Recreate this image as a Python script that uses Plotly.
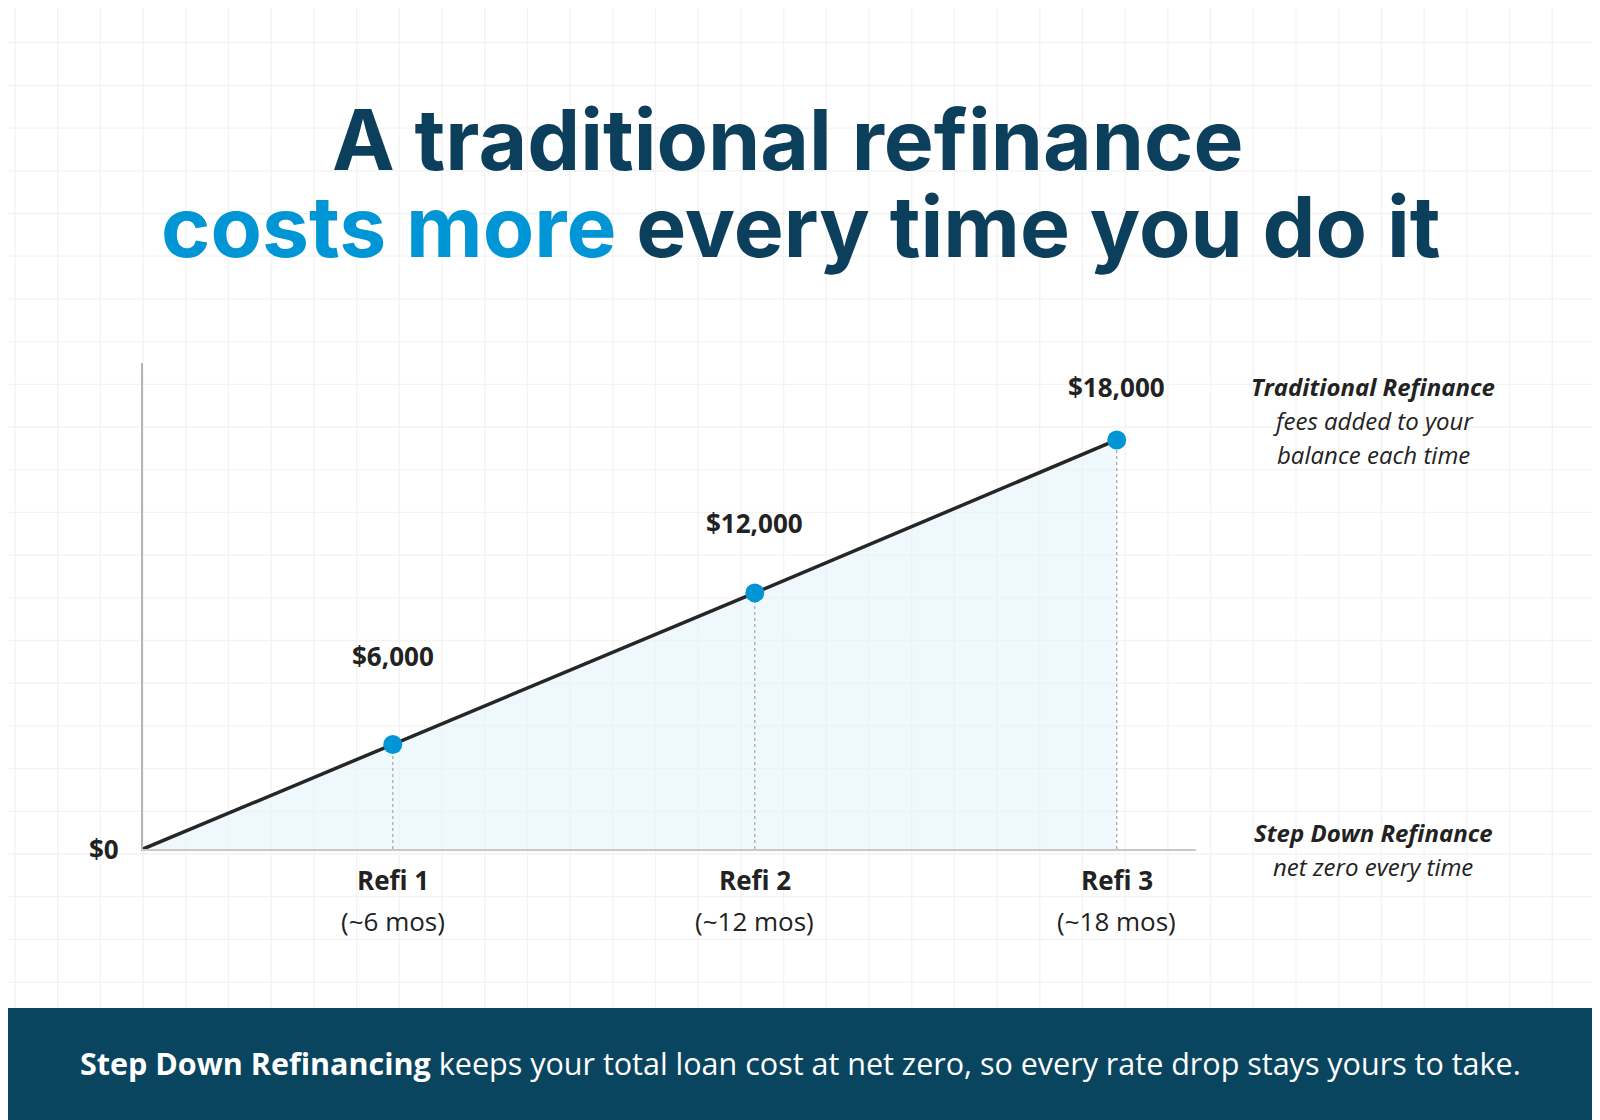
import plotly.graph_objects as go

# data
refi_labels = ["Refi 1", "Refi 2", "Refi 3"]
refi_terms = ["(~6 mos)", "(~12 mos)", "(~18 mos)"]
fee_labels = ["$6,000", "$12,000", "$18,000"]
line_x = [0, 0.69, 1.69, 2.69]
line_y = [0, 4100, 10050, 16050]
fee_label_y = [656, 523, 387]  # pixel rows of the value labels

W, H = 1600, 1120
OFF = 8  # page margin of the browser
L, T = 143 - OFF, 363 - OFF
PW, PH = 1053, 486
R, B = W - L - PW, H - T - PH

DARK = "#0c3f5c"
BLUE = "#0096d6"
TEXT = "#222222"
FONT = "Open Sans"


def px(x):
    return (x - OFF - L) / PW


def py(y):
    return (H - B - (y - OFF)) / PH


fig = go.Figure()

# filled area + line
fig.add_trace(go.Scatter(
    x=line_x, y=line_y, mode="lines",
    line=dict(color="#262626", width=3.5),
    fill="tozeroy", fillcolor="rgba(228,245,252,0.6)",
    hoverinfo="skip",
))

# dotted drop lines
for xv, yv in zip(line_x[1:], line_y[1:]):
    fig.add_trace(go.Scatter(
        x=[xv, xv], y=[0, yv], mode="lines",
        line=dict(color="#aaaaaa", width=1.3, dash="dot"),
        hoverinfo="skip",
    ))

fig.add_trace(go.Scatter(
    x=line_x[1:], y=line_y[1:], mode="markers",
    marker=dict(color=BLUE, size=19),
    hoverinfo="skip",
))

shapes = []
# background grid
step = 42.7
g = 15.0
while g < W + 20:
    shapes.append(dict(type="line", xref="paper", yref="paper", layer="below",
                       x0=px(g), x1=px(g), y0=py(-10), y1=py(H + 20),
                       line=dict(color="#f3f3f3", width=1.3)))
    g += step
g = 0.0
while g < H + 20:
    shapes.append(dict(type="line", xref="paper", yref="paper", layer="below",
                       x0=px(-10), x1=px(W + 20), y0=py(g), y1=py(g),
                       line=dict(color="#f3f3f3", width=1.3)))
    g += step

# bottom banner
shapes.append(dict(type="rect", xref="paper", yref="paper", layer="above",
                   x0=px(-10), x1=px(W + 20), y0=py(1008), y1=py(H + 30),
                   fillcolor="#0a4560", line=dict(width=0)))

ann = []


def text(x, y, s, size, color=TEXT, family=FONT, xref="paper"):
    ann.append(dict(x=px(x) if xref == "paper" else x, y=py(y), xref=xref, yref="paper",
                    text=s, showarrow=False, xanchor="center", yanchor="middle",
                    font=dict(size=size, color=color, family=family)))


text(788, 139, "<b>A traditional refinance</b>", 84, DARK, "Inter")
text(800, 227, "<b><span style='color:%s'>costs more</span> every time you do it</b>" % BLUE,
     84, DARK, "Inter")

for xv, ly, lab in zip(line_x[1:], fee_label_y, fee_labels):
    text(xv, ly, "<b>%s</b>" % lab, 26, xref="x")

for xv, lab, term in zip(line_x[1:], refi_labels, refi_terms):
    text(xv, 880, "<b>%s</b>" % lab, 26, xref="x")
    text(xv, 921, term, 26, xref="x")

text(104, 849, "<b>$0</b>", 26)

text(1373, 386, "<b><i>Traditional Refinance</i></b>", 24)
text(1373, 420, "<i>fees added to your</i>", 24)
text(1373, 454, "<i>balance each time</i>", 24)
text(1373, 832, "<b><i>Step Down Refinance</i></b>", 24)
text(1373, 866, "<i>net zero every time</i>", 24)

text(800, 1063, "<b>Step Down Refinancing</b> keeps your total loan cost at net zero, "
     "so every rate drop stays yours to take.", 30.5, "white")

fig.update_layout(
    width=W, height=H,
    margin=dict(l=L, r=R, t=T, b=B),
    paper_bgcolor="white", plot_bgcolor="rgba(0,0,0,0)",
    showlegend=False,
    shapes=shapes, annotations=ann,
    xaxis=dict(range=[0, 2.909], showgrid=False, zeroline=False, showticklabels=False,
               showline=True, linecolor="#c8c8c8", linewidth=2, fixedrange=True),
    yaxis=dict(range=[0, 19070], showgrid=False, zeroline=False, showticklabels=False,
               showline=True, linecolor="#b5b5b5", linewidth=2, fixedrange=True),
)

fig.write_html("out.html")
